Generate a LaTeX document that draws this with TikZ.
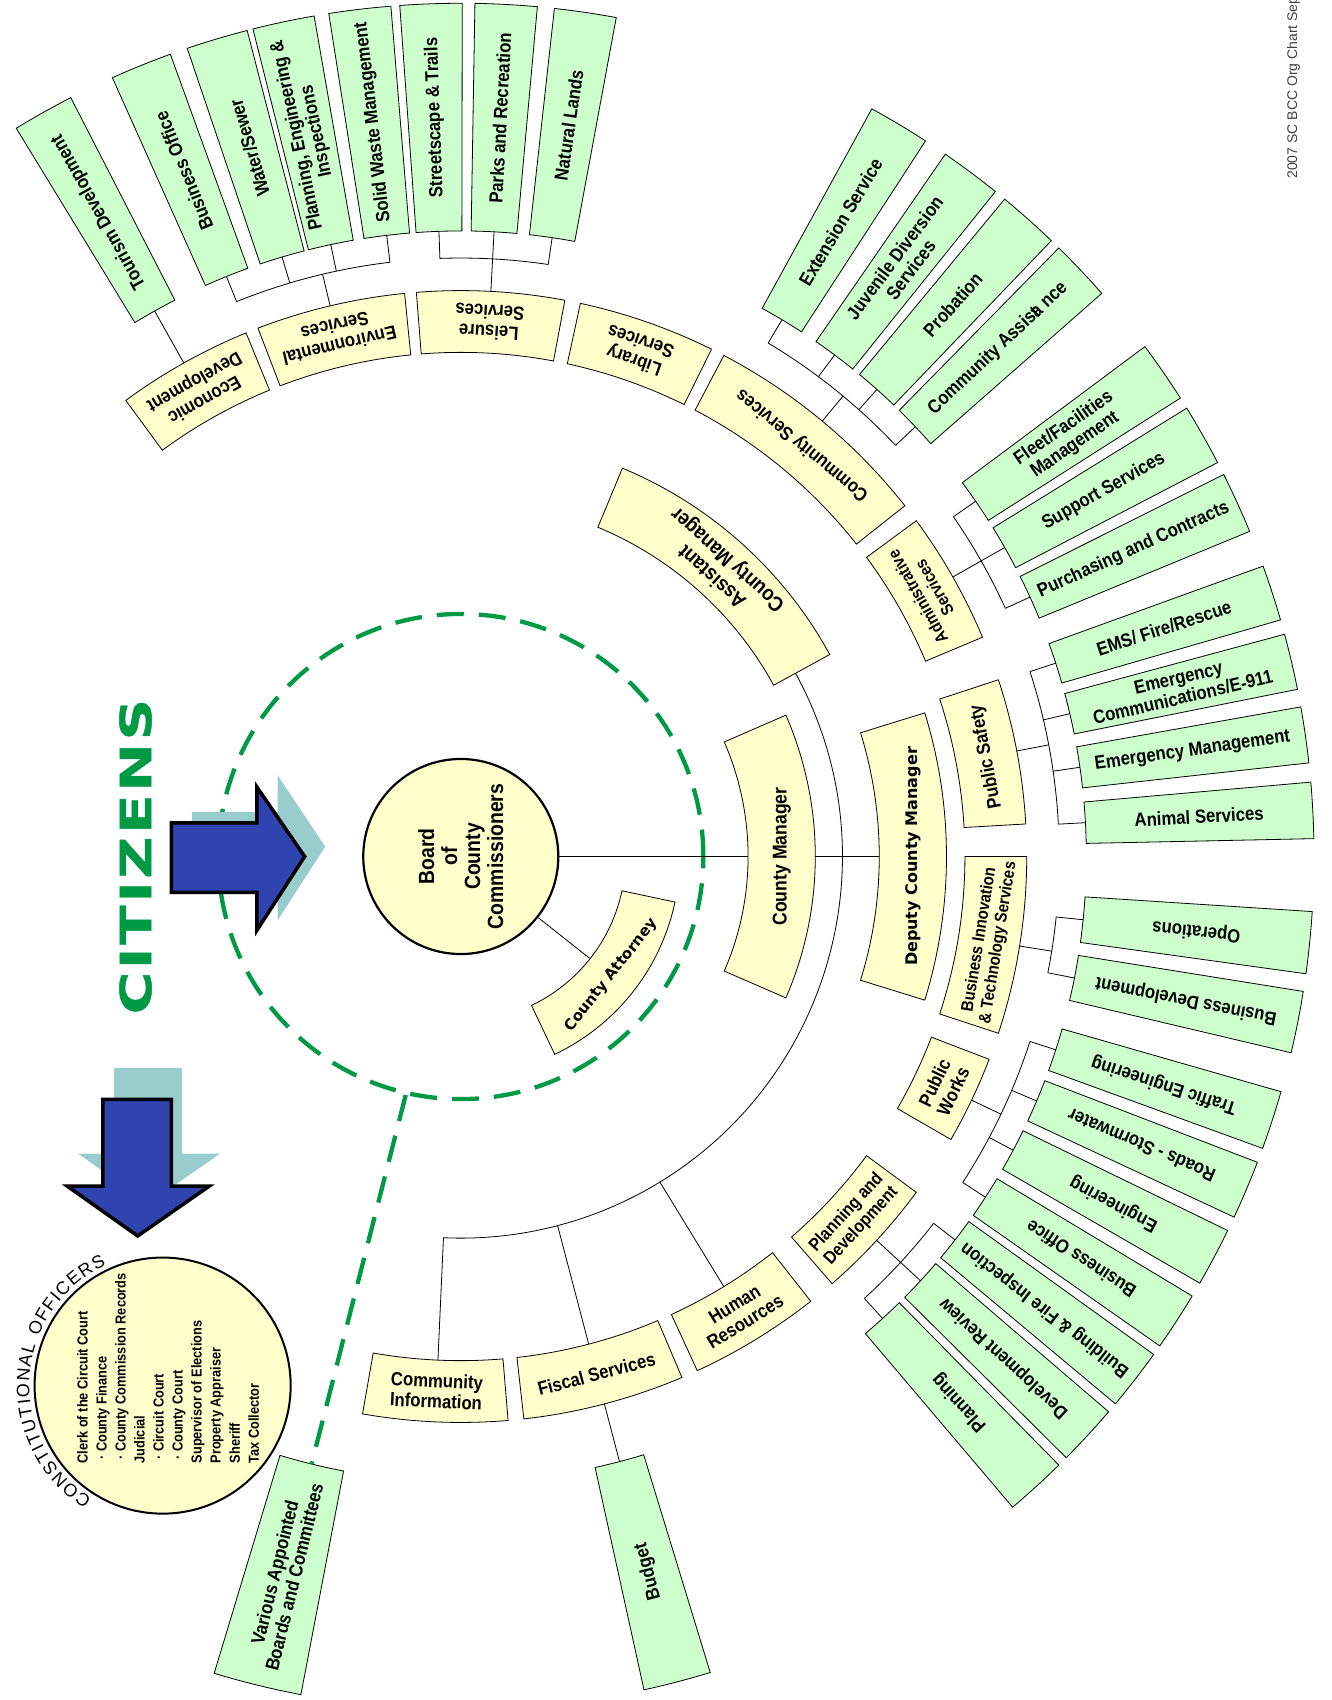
\documentclass[tikz,border=0pt]{standalone}
\usepackage{fontspec}
\setmainfont{Liberation Sans}
\newfontfamily\chartfont{Liberation Sans}[FakeStretch=0.88]
\newfontfamily\widefont{DejaVu Sans}
\newfontfamily\citizenfont{DejaVu Sans}[FakeStretch=1.35,LetterSpace=6,FakeBold=1]
\usetikzlibrary{positioning,decorations.text}

\definecolor{ringyellow}{RGB}{255,255,204}
\definecolor{leafgreen}{RGB}{204,255,204}
\definecolor{citgreen}{RGB}{0,153,68}
\definecolor{arrowblue}{RGB}{48,68,176}
\definecolor{arrowteal}{RGB}{153,204,204}

% yellow ring segment: [opts]{name}{from}{to}{inner r}{outer r}{text}
\newcommand{\ringseg}[7][]{%
  \pgfmathsetmacro\segang{(#3+#4)/2}%
  \pgfmathsetmacro\segmid{(#5+#6)/2}%
  \pgfmathsetmacro\segrot{\segang+90}%
  \filldraw[ringbox] (#3:#5) arc[start angle=#3, end angle=#4, radius=#5]
    -- (#4:#6) arc[start angle=#4, end angle=#3, radius=#6] -- cycle;
  \node[ringtext, #1, rotate=\segrot] (#2) at (\segang:\segmid) {#7};
  \coordinate (#2-in) at (\segang:#5);
  \coordinate (#2-out) at (\segang:#6);
}
% green leaf box: [opts]{name}{angle}{half width}{text turn}{text}
\newcommand{\leafseg}[6][]{%
  \pgfmathsetmacro\leafa{#3-#4}%
  \pgfmathsetmacro\leafb{#3+#4}%
  \pgfmathsetmacro\leafrot{#3+#5}%
  \filldraw[leafbox] (\leafa:577) arc[start angle=\leafa, end angle=\leafb, radius=577]
    -- (\leafb:787) arc[start angle=\leafb, end angle=\leafa, radius=787] -- cycle;
  \node[leaftext, #1, rotate=\leafrot] (#2) at (#3:682) {#6};
  \coordinate (#2-in) at (#3:577);
}

\begin{document}
\begin{tikzpicture}[x=1.0839pt, y=-1.0839pt,
  ringbox/.style={draw=black, line width=0.8pt, fill=ringyellow},
  leafbox/.style={draw=black, line width=0.8pt, fill=leafgreen},
  ringtext/.style={font=\chartfont\bfseries\fontsize{19}{20.5}\selectfont, align=center, inner sep=0pt},
  leaftext/.style={font=\chartfont\bfseries\fontsize{19}{20}\selectfont, align=center, inner sep=0pt},
  link/.style={draw=black, line width=0.8pt},
  citizenline/.style={draw=citgreen, line width=4.3pt, dash pattern=on 27pt off 15pt},
  bigarrow/.style={fill=arrowblue, draw=black, line width=3.5pt, line join=miter},
  arrowshade/.style={fill=arrowteal}]

\useasboundingbox (0,0) rectangle (1228,1568);

\node[font=\citizenfont\bfseries\fontsize{43}{43}\selectfont, text=citgreen, rotate=90] (citizens) at (125,790) {CITIZENS};

\node[font=\fontsize{14}{14}\selectfont, text=black!75, rotate=90, anchor=west] (chartdate) at (1193,168) {2007 SC BCC Org Chart Sept};

\begin{scope}[shift={(425,790)}, yscale=-1]
  % citizens ring
  \node[circle, citizenline, minimum size=485pt] (citizenring) at (0,0) {};

  % managers
  \ringseg[font=\chartfont\bfseries\fontsize{20}{21}\selectfont]{cm}{-23.5}{23.5}{265}{327}{County Manager}
  \ringseg[font=\widefont\bfseries\fontsize{16}{18}\selectfont]{deputy}{-17.2}{17.2}{386}{448}{Deputy County Manager}
  \ringseg[font=\chartfont\bfseries\fontsize{21}{23}\selectfont]{asst}{28.7}{67.4}{329}{388}{Assistant\\County Manager}
  \ringseg[font=\widefont\bfseries\fontsize{15}{17}\selectfont]{attorney}{-64.6}{-12}{152}{202}{County Attorney}

  % departments
  \ringseg{econ}{112.3}{126.3}{465}{522}{Economic\\Development}
  \ringseg{env}{95.7}{111}{465}{522}{Environmental\\Services}
  \ringseg{leisure}{79.4}{94.5}{465}{522}{Leisure\\Services}
  \ringseg{library}{63.7}{77.8}{465}{522}{Library\\Services}
  \ringseg{commsvc}{38.3}{62.3}{465}{522}{Community Services}
  \ringseg[font=\chartfont\bfseries\fontsize{17}{19}\selectfont]{admin}{22.8}{36.4}{465}{522}{Administrative\\Services}
  \ringseg{pubsafety}{3.3}{18.2}{465}{522}{Public Safety}
  \ringseg[font=\chartfont\bfseries\fontsize{17}{19}\selectfont]{bits}{-18.2}{0}{465}{522}{Business Innovation\\\& Technology Services}
  \ringseg{pubworks}{-30}{-21}{465}{522}{Public\\Works}
  \ringseg[font=\chartfont\bfseries\fontsize{18}{20}\selectfont]{pd}{-49}{-36.4}{465}{522}{Planning and\\Development}
  \ringseg{hr}{-65.3}{-51.8}{465}{522}{Human\\Resources}
  \ringseg{fiscal}{-83.6}{-67}{465}{522}{Fiscal Services}
  \ringseg{comminfo}{-100}{-85.2}{465}{522}{Community\\Information}

  % divisions
  \leafseg{tourism}{119.3}{2.1}{0}{Tourism Development}
  \leafseg{envoffice}{112}{2.1}{0}{Business Office}
  \leafseg{water}{106.6}{2.1}{0}{Water/Sewer}
  \leafseg{planeng}{102}{2.1}{0}{Planning, Engineering \&\\Inspections}
  \leafseg{solidwaste}{96.8}{2.1}{0}{Solid Waste Management}
  \leafseg{streets}{92}{2.1}{0}{Streetscape \& Trails}
  \leafseg{parks}{86.95}{2.1}{0}{Parks and Recreation}
  \leafseg{natland}{81.6}{2.1}{0}{Natural Lands}
  \leafseg{extension}{59.1}{2.1}{0}{Extension Service}
  \leafseg{juvenile}{53.3}{2.1}{0}{Juvenile Diversion\\Services}
  \leafseg{probation}{48.3}{2.1}{0}{Probation}
  \leafseg{commassist}{43.4}{2.1}{0}{Community Assis\rlap{t}a nce}
  \leafseg{fleet}{34.6}{2.1}{0}{Fleet/Facilities\\Management}
  \leafseg{support}{29.6}{2.1}{0}{Support Services}
  \leafseg{purchasing}{24.5}{2.1}{0}{Purchasing and Contracts}
  \leafseg{ems}{18}{1.9}{0}{EMS/ Fire/Rescue}
  \leafseg{emcomm}{13.2}{1.9}{0}{Emergency\\Communications/E-911}
  \leafseg{emmgmt}{8.2}{1.9}{0}{Emergency Management}
  \leafseg{animal}{3.1}{1.9}{0}{Animal Services}
  \leafseg{operations}{-5.8}{2.1}{180}{Operations}
  \leafseg{busdev}{-11.2}{2.1}{180}{Business Development}
  \leafseg{traffic}{-18}{2}{180}{Traffic Engineering}
  \leafseg{roads}{-23}{2}{180}{Roads - Stormwater}
  \leafseg{engineering}{-28}{2}{180}{Engineering}
  \leafseg{pwoffice}{-33}{2}{180}{Business Office}
  \leafseg{building}{-37.8}{2.1}{180}{Building \& Fire Inspection}
  \leafseg{devreview}{-42.7}{2.1}{180}{Development Review}
  \leafseg{planning}{-47.6}{2.1}{180}{Planning}
  \leafseg{budget}{-75.3}{2.3}{180}{Budget}
  \leafseg{various}{-103.8}{3}{180}{Various Appointed\\Boards and Committees}

  % board
  \node[circle, draw, line width=2.2pt, fill=ringyellow, minimum size=195pt, align=center, rotate=90,
    font=\chartfont\bfseries\fontsize{22}{23}\selectfont] (board) at (0,0) {Board\\of\\County\\Commissioners};

  \draw[link] (board) -- (cm-in);
  \draw[link] (board) -- (attorney-in);
  \draw[link] (cm-out) -- (deputy-in);

  % staff spine
  \draw[link] (28.7:352) arc[start angle=28.7, end angle=-92.6, radius=352];
  \foreach \n/\a in {hr/-58.55, fiscal/-75.3, comminfo/-92.6}
    \draw[link] (\a:352) -- (\n-in);

  % department branches
  \draw[link] (econ-out) -- (tourism-in);

  \draw[link] (112:552) arc[start angle=112, end angle=96.8, radius=552];
  \draw[link] (env-out) -- (103.35:552);
  \foreach \n/\a in {envoffice/112, water/106.6, planeng/102, solidwaste/96.8}
    \draw[link] (\a:552) -- (\n-in);

  \draw[link] (92:552) arc[start angle=92, end angle=81.6, radius=552];
  \draw[link] (leisure-out) -- (parks-in);
  \foreach \n/\a in {streets/92, natland/81.6}
    \draw[link] (\a:552) -- (\n-in);

  \draw[link] (59.1:552) arc[start angle=59.1, end angle=43.4, radius=552];
  \draw[link] (commsvc-out) -- (50.3:552);
  \foreach \n/\a in {extension/59.1, juvenile/53.3, probation/48.3, commassist/43.4}
    \draw[link] (\a:552) -- (\n-in);

  \draw[link] (34.6:552) arc[start angle=34.6, end angle=24.5, radius=552];
  \draw[link] (admin-out) -- (support-in);
  \foreach \n/\a in {fleet/34.6, purchasing/24.5}
    \draw[link] (\a:552) -- (\n-in);

  \draw[link] (18:552) arc[start angle=18, end angle=3.1, radius=552];
  \draw[link] (pubsafety-out) -- (10.75:552);
  \foreach \n/\a in {ems/18, emcomm/13.2, emmgmt/8.2, animal/3.1}
    \draw[link] (\a:552) -- (\n-in);

  \draw[link] (-5.8:552) arc[start angle=-5.8, end angle=-11.2, radius=552];
  \draw[link] (bits-out) -- (-9.1:552);
  \foreach \n/\a in {operations/-5.8, busdev/-11.2}
    \draw[link] (\a:552) -- (\n-in);

  \draw[link] (-18:552) arc[start angle=-18, end angle=-33, radius=552];
  \draw[link] (pubworks-out) -- (-25.5:552);
  \foreach \n/\a in {traffic/-18, roads/-23, engineering/-28, pwoffice/-33}
    \draw[link] (\a:552) -- (\n-in);

  \draw[link] (-37.8:552) arc[start angle=-37.8, end angle=-47.6, radius=552];
  \draw[link] (pd-out) -- (devreview-in);
  \foreach \n/\a in {building/-37.8, planning/-47.6}
    \draw[link] (\a:552) -- (\n-in);

  \draw[link] (fiscal-out) -- (budget-in);

  \draw[citizenline] (citizenring.-103.8) -- (various-in);
\end{scope}

% arrows
\fill[arrowshade] (177,749) -- (256,749) -- (256,715) -- (300,781) -- (256,849) -- (256,813) -- (177,813) -- cycle;
\filldraw[bigarrow] (158,759) -- (237,759) -- (237,726) -- (281,790) -- (237,858) -- (237,823) -- (158,823) -- cycle;
\fill[arrowshade] (105,985) -- (168,985) -- (168,1064) -- (203,1064) -- (137,1110) -- (72,1064) -- (105,1064) -- cycle;
\filldraw[bigarrow] (95,1014) -- (158,1014) -- (158,1094) -- (193,1094) -- (127,1140) -- (62,1094) -- (95,1094) -- cycle;

% constitutional officers
\node[circle, draw, line width=2pt, fill=ringyellow, minimum size=256pt] (officers) at (150,1278) {};
\node[font=\chartfont\bfseries\fontsize{14.5}{19}\selectfont, align=left, rotate=90] (officerlist) at (155,1262)
  {Clerk of the Circuit Court\\
   \ · County Finance\\
   \ · County Commission Records\\
   Judicial\\
   \ · Circuit Court\\
   \ · County Court\\
   Supervisor of Elections\\
   Property Appraiser\\
   Sheriff\\
   Tax Collector};
\begin{scope}[shift={(150,1278)}, yscale=-1]
  \path[decorate, decoration={text along path, text align=fit to path,
      text={|\fontsize{18}{18}\selectfont|CONSTITUTIONAL OFFICERS}}]
    (238:123) arc[start angle=238, end angle=115, radius=123];
\end{scope}

\end{tikzpicture}
\end{document}
